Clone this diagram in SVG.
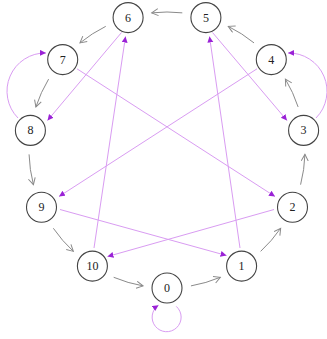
<svg xmlns="http://www.w3.org/2000/svg" width="327" height="339" viewBox="0 0 327 339">
<style>
.node circle{fill:#fff;stroke:#444;stroke-width:1.1}
.node text{font-family:"Liberation Serif","DejaVu Serif",serif;font-size:12px;fill:#222;text-anchor:middle}
.g{fill:none;stroke:#8a8a8a;stroke-width:1;marker-end:url(#ga)}
.p{fill:none;stroke:#d99cf2;stroke-width:1;marker-end:url(#pa)}
</style>
<defs>
<marker id="ga" markerUnits="userSpaceOnUse" markerWidth="10" markerHeight="10" refX="7" refY="4" orient="auto">
<path d="M0.5,0.5 L7,4 L0.5,7.5" fill="none" stroke="#8a8a8a" stroke-width="1"/>
</marker>
<marker id="pa" markerUnits="userSpaceOnUse" markerWidth="8" markerHeight="8" refX="6" refY="3" orient="auto">
<path d="M0,0 L6,3 L0,6 z" fill="#9a22d6"/>
</marker>
</defs>
<g id="connectors">
<path class="g" d="M190.96,285.90 A138 138 0 0 0 220.32,277.29"/>
<path class="g" d="M260.65,251.36 A138 138 0 0 0 280.67,228.26"/>
<path class="g" d="M300.58,184.66 A138 138 0 0 0 304.93,154.38"/>
<path class="g" d="M298.11,106.94 A138 138 0 0 0 285.40,79.11"/>
<path class="g" d="M254.03,42.91 A138 138 0 0 0 228.28,26.35"/>
<path class="g" d="M182.29,12.85 A138 138 0 0 0 151.71,12.85"/>
<path class="g" d="M105.72,26.35 A138 138 0 0 0 79.97,42.91"/>
<path class="g" d="M48.60,79.11 A138 138 0 0 0 35.89,106.94"/>
<path class="g" d="M29.07,154.38 A138 138 0 0 0 33.42,184.66"/>
<path class="g" d="M53.33,228.26 A138 138 0 0 0 73.35,251.36"/>
<path class="g" d="M113.68,277.29 A138 138 0 0 0 143.04,285.90"/>
<path class="p" d="M240,248 L209.5,36.5"/>
<path class="p" d="M94,248 L125.5,36.5"/>
<path class="p" d="M274,209.5 L107.5,256.5"/>
<path class="p" d="M60,209.5 L226.5,255.5"/>
<path class="p" d="M256.99,68.82 L59,196.5"/>
<path class="p" d="M77.01,68.82 L275,196.5"/>
<path class="p" d="M212.5,32.5 L287,120.5"/>
<path class="p" d="M121.5,32.5 L47.5,120.5"/>
<path class="p" d="M18,118 A38.2 38.2 0 0 1 46,53"/>
<path class="p" d="M316,118 A38.2 38.2 0 0 0 288,53"/>
<path class="p" d="M176.3,306.4 A14.5 14.5 0 1 1 158.5,305.2"/>
</g>
<g id="node-0" class="node"><circle cx="167" cy="288" r="15"/><text x="167" y="292">0</text></g>
<g id="node-1" class="node"><circle cx="241.6" cy="266.1" r="15"/><text x="241.6" y="270.1">1</text></g>
<g id="node-2" class="node"><circle cx="292.5" cy="207.3" r="15"/><text x="292.5" y="211.3">2</text></g>
<g id="node-3" class="node"><circle cx="303.6" cy="130.4" r="15"/><text x="303.6" y="134.4">3</text></g>
<g id="node-4" class="node"><circle cx="271.3" cy="59.6" r="15"/><text x="271.3" y="63.6">4</text></g>
<g id="node-5" class="node"><circle cx="205.9" cy="17.6" r="15"/><text x="205.9" y="21.6">5</text></g>
<g id="node-6" class="node"><circle cx="128.1" cy="17.6" r="15"/><text x="128.1" y="21.6">6</text></g>
<g id="node-7" class="node"><circle cx="62.7" cy="59.6" r="15"/><text x="62.7" y="63.6">7</text></g>
<g id="node-8" class="node"><circle cx="30.4" cy="130.4" r="15"/><text x="30.4" y="134.4">8</text></g>
<g id="node-9" class="node"><circle cx="41.5" cy="207.3" r="15"/><text x="41.5" y="211.3">9</text></g>
<g id="node-10" class="node"><circle cx="92.4" cy="266.1" r="15"/><text x="92.4" y="270.1">10</text></g>
</svg>
